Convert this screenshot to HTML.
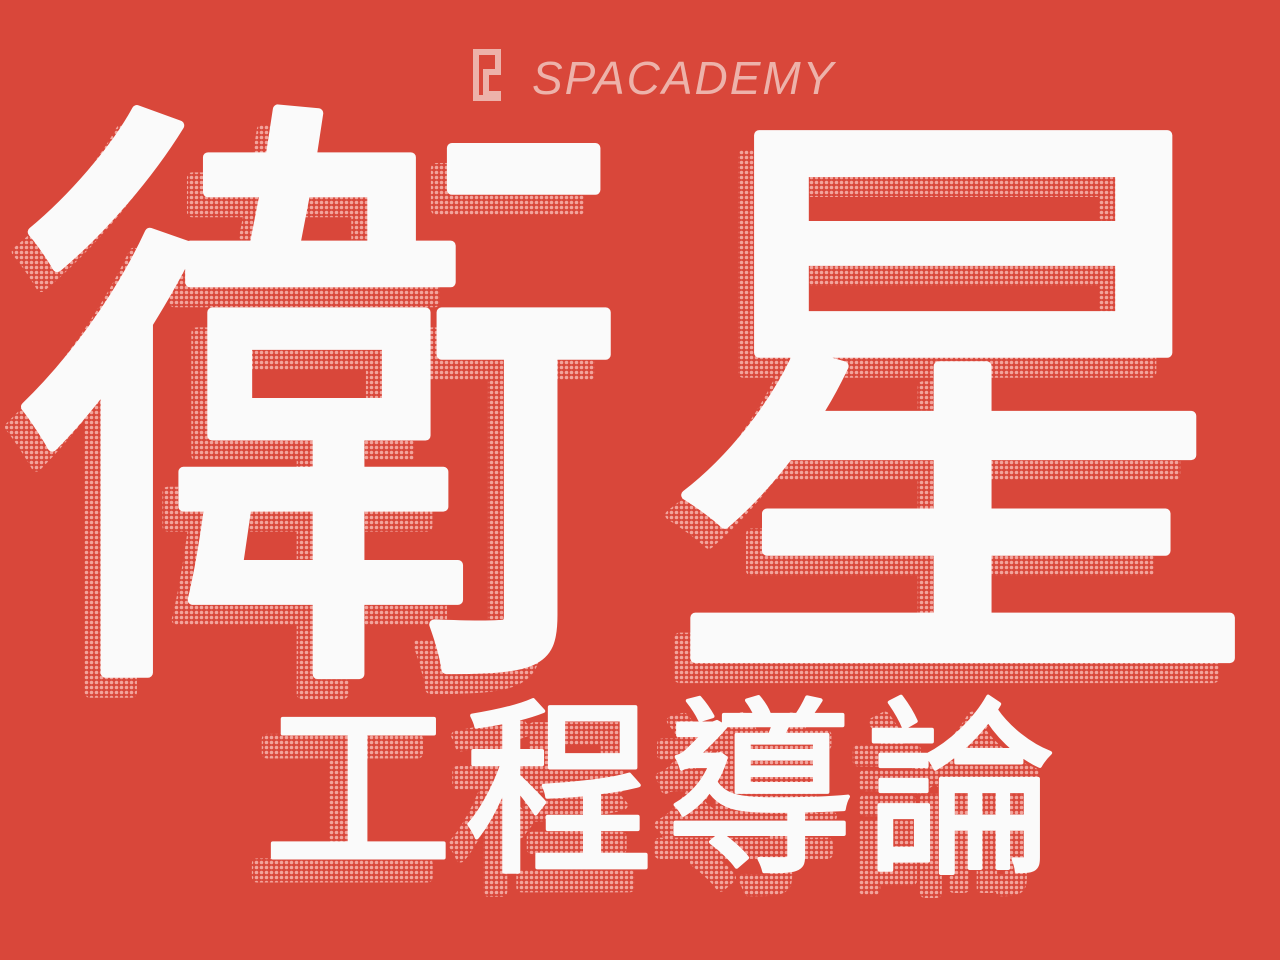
<!DOCTYPE html>
<html><head><meta charset="utf-8"><style>
html,body{margin:0;padding:0;background:#D9473A;}
svg{display:block}
</style></head><body>
<svg width="1280" height="960" viewBox="0 0 1280 960">
<defs>
<pattern id="dots" width="5" height="5" patternUnits="userSpaceOnUse">
<rect width="5" height="5" fill="#D9473A"/>
<circle cx="2.5" cy="2.5" r="1.8" fill="#F2A49C"/>
</pattern>
</defs>
<rect width="1280" height="960" fill="#D9473A"/>
<g>
<path d="M476 52 h22 v20 h-12 v22 h12 v4 h-22 z" fill="none" stroke="#EDB2AA" stroke-width="6"/>
<text x="532" y="94" font-family="'Liberation Sans',sans-serif" font-size="46" font-style="italic" fill="#EDB2AA" letter-spacing="2">SPACADEMY</text>
</g>
<g font-family="'Liberation Sans','Noto Sans CJK TC',sans-serif" font-weight="normal" text-anchor="middle">
<g fill="url(#dots)" stroke="url(#dots)" stroke-width="10" stroke-linejoin="round" transform="translate(-16,20)">
<text x="322" y="625" font-size="613">衛</text>
<text x="962" y="625" font-size="613">星</text>
<text x="358" y="857" font-size="190">工</text>
<text x="559" y="857" font-size="190">程</text>
<text x="760" y="857" font-size="190">導</text>
<text x="961" y="857" font-size="190">論</text>
</g>
<g fill="#FAFAFA" stroke="#FAFAFA" stroke-width="10" stroke-linejoin="round">
<text x="322" y="625" font-size="613">衛</text>
<text x="962" y="625" font-size="613">星</text>
<text x="358" y="857" font-size="190" stroke-width="4">工</text>
<text x="559" y="857" font-size="190" stroke-width="4">程</text>
<text x="760" y="857" font-size="190" stroke-width="4">導</text>
<text x="961" y="857" font-size="190" stroke-width="4">論</text>
</g>
</g>
</svg>
</body></html>
